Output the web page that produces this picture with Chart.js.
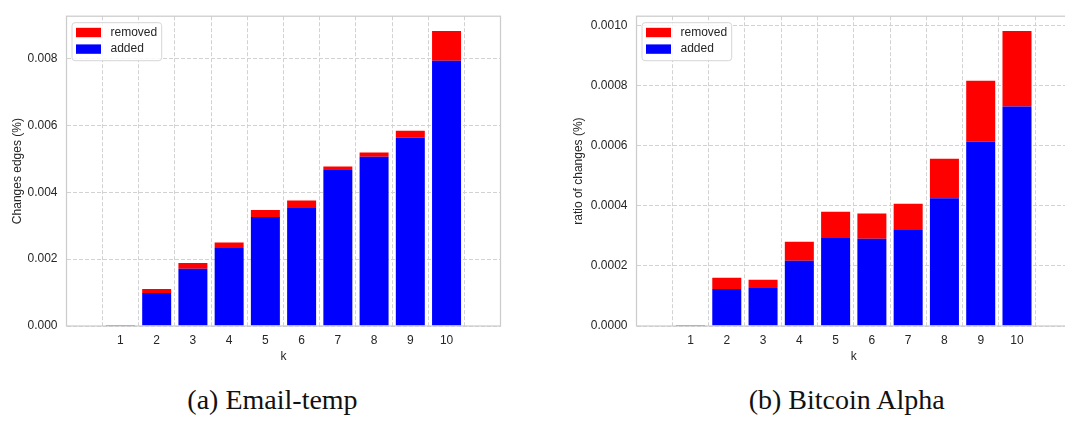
<!DOCTYPE html>
<html>
<head>
<meta charset="utf-8">
<script src="https://cdn.jsdelivr.net/npm/chart.js@4.4.1/dist/chart.umd.min.js"></script>
<style>
  body { margin: 0; background: #fff; width: 1065px; height: 422px; overflow: hidden; position: relative; }
  canvas { position: absolute; top: 0; }
  #email { left: 0; }
  #bitcoin { left: 530px; }
  .cap { position: absolute; top: 386px; width: 300px; text-align: center;
         font: 28px/28px "Liberation Serif", "Times New Roman", serif; color: #111; }
</style>
</head>
<body>
<canvas id="email" width="530" height="370"></canvas>
<canvas id="bitcoin" width="545" height="370"></canvas>
<div class="cap" style="left:122.5px">(a) Email-temp</div>
<div class="cap" style="left:696.7px">(b) Bitcoin Alpha</div>
<script>
const kValues = [1, 2, 3, 4, 5, 6, 7, 8, 9, 10];

// Email-temp
const emailAdded   = [0.00003, 0.00099, 0.00171, 0.00233, 0.00326, 0.00353, 0.00466, 0.00506, 0.00563, 0.00793];
const emailRemoved = [0, 0.000115, 0.000175, 0.000165, 0.00021, 0.00022, 0.000105, 0.000125, 0.00021, 0.00089];
const emailTicks   = [0, 0.002, 0.004, 0.006, 0.008];

// Bitcoin Alpha
const btcAdded   = [0.000003, 0.000123, 0.000127, 0.000217, 0.000293, 0.000291, 0.000322, 0.000426, 0.000614, 0.000731];
const btcRemoved = [0, 0.000038, 0.000027, 0.000064, 0.000088, 0.000084, 0.000085, 0.000131, 0.000203, 0.000252];
const btcTicks   = [0, 0.0002, 0.0004, 0.0006, 0.0008, 0.0010];

Chart.defaults.font.family = '"Liberation Sans", Arial, sans-serif';
Chart.defaults.font.size = 12;
Chart.defaults.color = '#262626';

// axes frame on all four sides + legend box in the upper left corner
const framePlugin = {
    id: 'frame',
    afterDatasetsDraw(chart) {
        const ctx = chart.ctx;
        const a = chart.chartArea;
        ctx.save();
        ctx.strokeStyle = '#cccccc';
        ctx.lineWidth = 1.25;
        ctx.strokeRect(a.left, a.top, a.right - a.left, a.bottom - a.top);

        const items = chart.data.datasets.slice().reverse();   // removed on top
        ctx.font = '12px "Liberation Sans", Arial, sans-serif';
        let textW = 0;
        items.forEach(d => { textW = Math.max(textW, ctx.measureText(d.label).width); });
        const fx = a.left + 5.5, fy = a.top + 6.5;
        const fw = 38.5 + textW + 4.5, fh = 38;
        ctx.beginPath();
        ctx.roundRect(fx, fy, fw, fh, 3);
        ctx.fillStyle = 'rgba(255,255,255,0.85)';
        ctx.fill();
        ctx.strokeStyle = '#d6d6d6';
        ctx.lineWidth = 1;
        ctx.stroke();
        ctx.textBaseline = 'middle';
        items.forEach((d, i) => {
            const cy = fy + 9.8 + i * 16.6;
            ctx.fillStyle = d.backgroundColor;
            ctx.fillRect(fx + 4, cy - 4.7, 25, 9.4);
            ctx.fillStyle = '#262626';
            ctx.fillText(d.label, fx + 38.5, cy);
        });
        ctx.restore();
    }
};

function drawChart(canvas, added, removed, yTicks, decimals, yTitle, axisWidth, padRight, titlePad) {
    const totals = added.map((v, i) => v + removed[i]);
    const yMax = Math.max(...totals) * 1.05;

    const data = {
        datasets: [{
            label: 'added',
            data: added.map((v, i) => ({x: kValues[i], y: v})),
            backgroundColor: '#0000ff',
            stack: 's',
        }, {
            label: 'removed',
            data: removed.map((v, i) => ({x: kValues[i], y: v})),
            backgroundColor: '#ff0000',
            stack: 's',
        }]
    };

    const options = {
        responsive: false,
        animation: false,
        events: [],
        devicePixelRatio: 1,
        categoryPercentage: 1.0,
        barPercentage: 0.8,
        layout: { padding: { left: 0, top: 2.7, right: padRight, bottom: 0 } },
        plugins: { legend: { display: false }, tooltip: { enabled: false } },
        scales: {
            x: {
                type: 'linear',
                min: 0.11,
                max: 10.89,
                afterBuildTicks: s => { s.ticks = kValues.map(v => ({value: v})); },
                afterFit: s => { s.height = 44; },
                ticks: { padding: 7, callback: v => String(v) },
                grid: { color: '#d2d2d2', lineWidth: 1, drawTicks: false },
                border: { display: false, dash: [4, 2] },
                title: { display: true, text: 'k', padding: { top: 0, bottom: 6 } },
            },
            y: {
                stacked: true,
                min: 0,
                max: yMax,
                afterBuildTicks: s => { s.ticks = yTicks.map(v => ({value: v})); },
                afterFit: s => { s.width = axisWidth; },
                ticks: { padding: 9, callback: v => Number(v).toFixed(decimals) },
                grid: { color: '#d2d2d2', lineWidth: 1, drawTicks: false },
                border: { display: false, dash: [4, 2] },
                title: { display: true, text: yTitle, padding: { top: titlePad, bottom: 0 } },
            }
        }
    };

    new Chart(document.getElementById(canvas), {
        type: 'bar',
        data: data,
        options: options,
        plugins: [framePlugin]
    });
}

drawChart('email', emailAdded, emailRemoved, emailTicks, 3, 'Changes edges (%)', 66.5, 29.5, 10);
drawChart('bitcoin', btcAdded, btcRemoved, btcTicks, 4, 'ratio of changes (%)', 106.5, 4, 41);
</script>
</body>
</html>
